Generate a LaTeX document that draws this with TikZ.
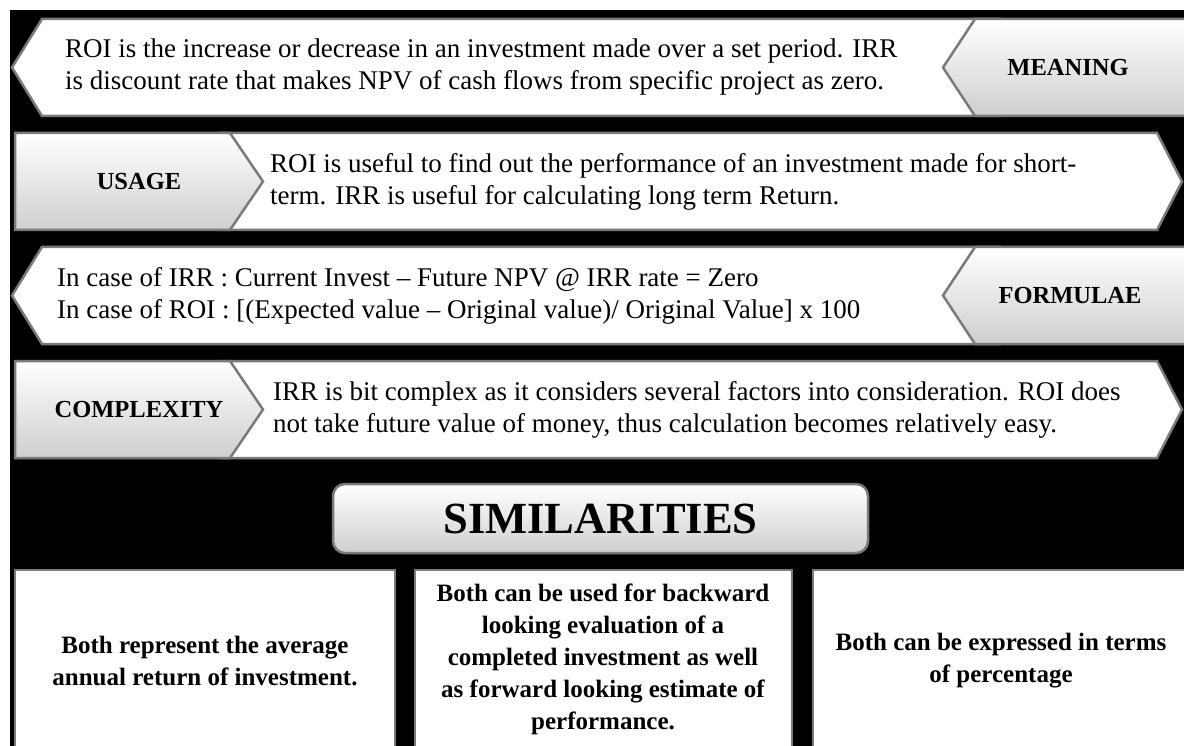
\documentclass[tikz,border=0pt]{standalone}
\usepackage{fontspec}
\setmainfont{Liberation Serif}
\definecolor{bordergray}{HTML}{7A7A7A}
\definecolor{labelgray}{HTML}{CFCFCF}
\begin{document}
\begin{tikzpicture}[x=1pt,y=-1pt,
  edge/.style={draw=bordergray, line width=2.5pt, line join=miter},
  whitebox/.style={edge, fill=white},
  labelbox/.style={edge, top color=white, bottom color=labelgray},
  bodytext/.style={font=\fontsize{27}{32}\selectfont, align=left, anchor=west, inner sep=0pt},
  labeltext/.style={font=\bfseries\fontsize{24.5}{29}\selectfont, inner sep=0pt},
  simtext/.style={font=\bfseries\fontsize{25}{32}\selectfont, align=center, inner sep=0pt},
  titletext/.style={font=\bfseries\fontsize{44.5}{50}\selectfont, inner sep=0pt}
]
\useasboundingbox (0,0) rectangle (1184,746);
\clip (0,0) rectangle (1184,746);
\fill[white] (0,0) rectangle (1184,746);
\fill[black] (10,10) rectangle (1200,760);

% Row 1: MEANING
\draw[whitebox] (12,67.5) -- (42,19) -- (1000,19) -- (1000,116) -- (42,116) -- cycle;
\draw[labelbox] (975,19) -- (1200,19) -- (1200,116) -- (975,116) -- (943,67.5) -- cycle;
\node[bodytext] (meaningtxt) at (65,67.5) {ROI is the increase or decrease in an investment made over a set period. IRR\\is discount rate that makes NPV of cash flows from specific project as zero.};
\node[labeltext] (meaning) at (1068,67.5) {MEANING};

% Row 2: USAGE
\draw[whitebox] (220,133) -- (1157,133) -- (1182,181.5) -- (1157,230) -- (220,230) -- cycle;
\draw[labelbox] (15,133) -- (230,133) -- (263,181.5) -- (230,230) -- (15,230) -- cycle;
\node[labeltext] (usage) at (139,181.5) {USAGE};
\node[bodytext] (usagetxt) at (270,181.5) {ROI is useful to find out the performance of an investment made for short-\\term. IRR is useful for calculating long term Return.};

% Row 3: FORMULAE
\draw[whitebox] (12,295.5) -- (42,247) -- (1000,247) -- (1000,344) -- (42,344) -- cycle;
\draw[labelbox] (975,247) -- (1200,247) -- (1200,344) -- (975,344) -- (943,295.5) -- cycle;
\node[bodytext] (formtxt) at (57,295.5) {In case of IRR : Current Invest -- Future NPV @ IRR rate = Zero\\In case of ROI : [(Expected value -- Original value)/ Original Value] x 100};
\node[labeltext] (formulae) at (1070,295.5) {FORMULAE};

% Row 4: COMPLEXITY
\draw[whitebox] (220,361) -- (1157,361) -- (1182,409.5) -- (1157,458) -- (220,458) -- cycle;
\draw[labelbox] (15,361) -- (230,361) -- (263,409.5) -- (230,458) -- (15,458) -- cycle;
\node[labeltext] (complexity) at (139,409.5) {COMPLEXITY};
\node[bodytext] (comptxt) at (273,409.5) {IRR is bit complex as it considers several factors into consideration. ROI does\\not take future value of money, thus calculation becomes relatively easy.};

% Similarities
\draw[labelbox, rounded corners=12pt] (333,484) rectangle (868,553);
\node[titletext] (sim) at (600.5,518.5) {SIMILARITIES};

\draw[whitebox] (15,570) rectangle (395,790);
\draw[whitebox] (415,570) rectangle (792,790);
\draw[whitebox] (813,570) rectangle (1200,790);
\node[simtext] (s1) at (205,661) {Both represent the average\\annual return of investment.};
\node[simtext] (s2) at (603,659) {Both can be used for backward\\looking evaluation of a\\completed investment as well\\as forward looking estimate of\\performance.};
\node[simtext] (s3) at (1001,661) {Both can be expressed in terms\\of percentage};
\end{tikzpicture}
\end{document}
